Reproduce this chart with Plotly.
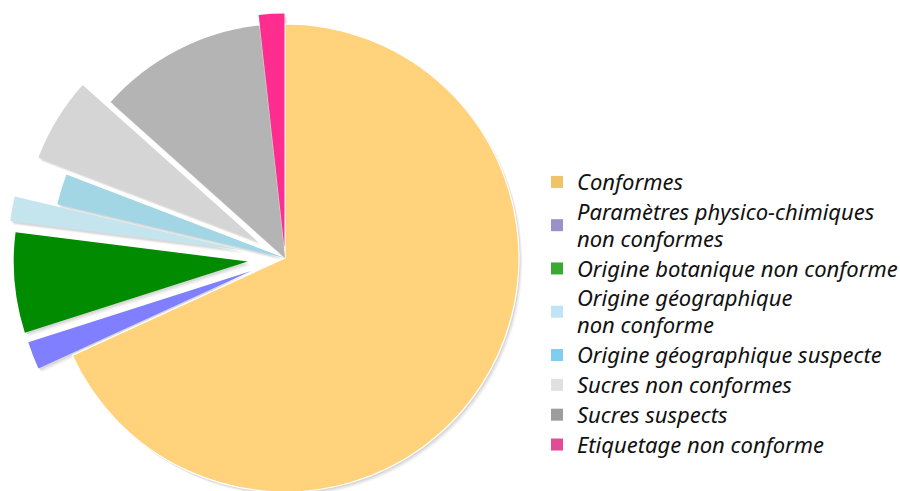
import math
import plotly.graph_objects as go

# ---- data ----
labels = [
    "Conformes",
    "Paramètres physico-chimiques<br>non conformes",
    "Origine botanique non conforme",
    "Origine géographique<br>non conforme",
    "Origine géographique suspecte",
    "Sucres non conformes",
    "Sucres suspects",
    "Etiquetage non conforme",
]
values = [68.0, 1.9, 6.9, 1.7, 2.1, 5.8, 11.6, 1.75]

# ---- style ----
slice_colors = ["#ffd27b", "#7f7fff", "#008b00", "#c5e5ee",
                "#a3d6e4", "#d5d5d5", "#b4b4b4", "#ff2d8f"]
legend_colors = ["#f0c366", "#9b91c8", "#3aaa35", "#bfe4f7",
                 "#80cdee", "#e0e0e0", "#9d9d9d", "#e34b94"]
pulls = [0.0, 0.155, 0.16, 0.185, 0.0, 0.14, 0.0, 0.045]

W, H = 930, 520          # paper larger than the 900x491 window; overflow hidden
CX, CY, R = 285, 258, 234
TRANSP = "rgba(0,0,0,0)"
SHADOWS = [((3.5, 4.0), "rgba(0,0,0,0.035)"),
           ((2.5, 3.0), "rgba(0,0,0,0.05)"),
           ((1.5, 1.8), "rgba(0,0,0,0.07)")]

total = sum(values)
fig = go.Figure()


def domain_for(cx, cy, r):
    return dict(x=[(cx - r) / W, (cx + r) / W],
                y=[1 - (cy + r) / H, 1 - (cy - r) / H])


# group slices by pull amount -> one pie per offset
groups = {}
for i, p in enumerate(pulls):
    groups.setdefault(p, []).append(i)

cum = 0.0
mids = []
for v in values:
    mids.append((cum + v / 2) / total * 360.0)
    cum += v

offsets = {}
for p, idxs in groups.items():
    if p == 0:
        offsets[p] = (0.0, 0.0)
    else:
        ang = math.radians(mids[idxs[0]])
        offsets[p] = (math.sin(ang) * p * R, -math.cos(ang) * p * R)


def add_pie(idxs, color_fn, dx, dy, lw_fn):
    cols = [color_fn(i) if i in idxs else TRANSP for i in range(len(values))]
    lw = [lw_fn(i) if i in idxs else 0 for i in range(len(values))]
    fig.add_trace(go.Pie(
        labels=labels, values=values, sort=False, direction="clockwise",
        rotation=0, textinfo="none", hoverinfo="skip", showlegend=False,
        marker=dict(colors=cols, line=dict(color="white", width=lw)),
        domain=domain_for(CX + dx, CY + dy, R),
    ))


# soft drop shadows
for (sx, sy), scol in SHADOWS:
    for p, idxs in groups.items():
        dx, dy = offsets[p]
        add_pie(idxs, lambda i: scol, dx + sx, dy + sy, lambda i: 0)

# slices
for p, idxs in groups.items():
    dx, dy = offsets[p]
    add_pie(idxs, lambda i: slice_colors[i], dx, dy,
            lambda i: 1.2 if i == 0 else 0)

# legend entries
for lab, col in zip(labels, legend_colors):
    fig.add_trace(go.Scatter(
        x=[None], y=[None], mode="markers",
        name="<br>".join('<span style="font-size:22px">' + part + "</span>"
                         for part in lab.split("<br>")),
        marker=dict(symbol="square", size=16, color=col),
        hoverinfo="skip",
    ))

fig.update_layout(
    width=W, height=H,
    margin=dict(l=0, r=0, t=0, b=0),
    paper_bgcolor="white", plot_bgcolor="white",
    xaxis=dict(visible=False), yaxis=dict(visible=False),
    legend=dict(
        x=537 / W, y=1 - 162 / H, xanchor="left", yanchor="top",
        font=dict(family="Noto Sans", size=20.65, style="italic", color="#111"),
        itemsizing="constant", bgcolor="rgba(0,0,0,0)",
    ),
)

fig.write_html(
    "out.html",
    config={"displayModeBar": False},
    post_script=(
        "document.documentElement.style.overflow='hidden';"
        "document.body.style.overflow='hidden';"
        "document.body.style.margin='0';"
    ),
)
